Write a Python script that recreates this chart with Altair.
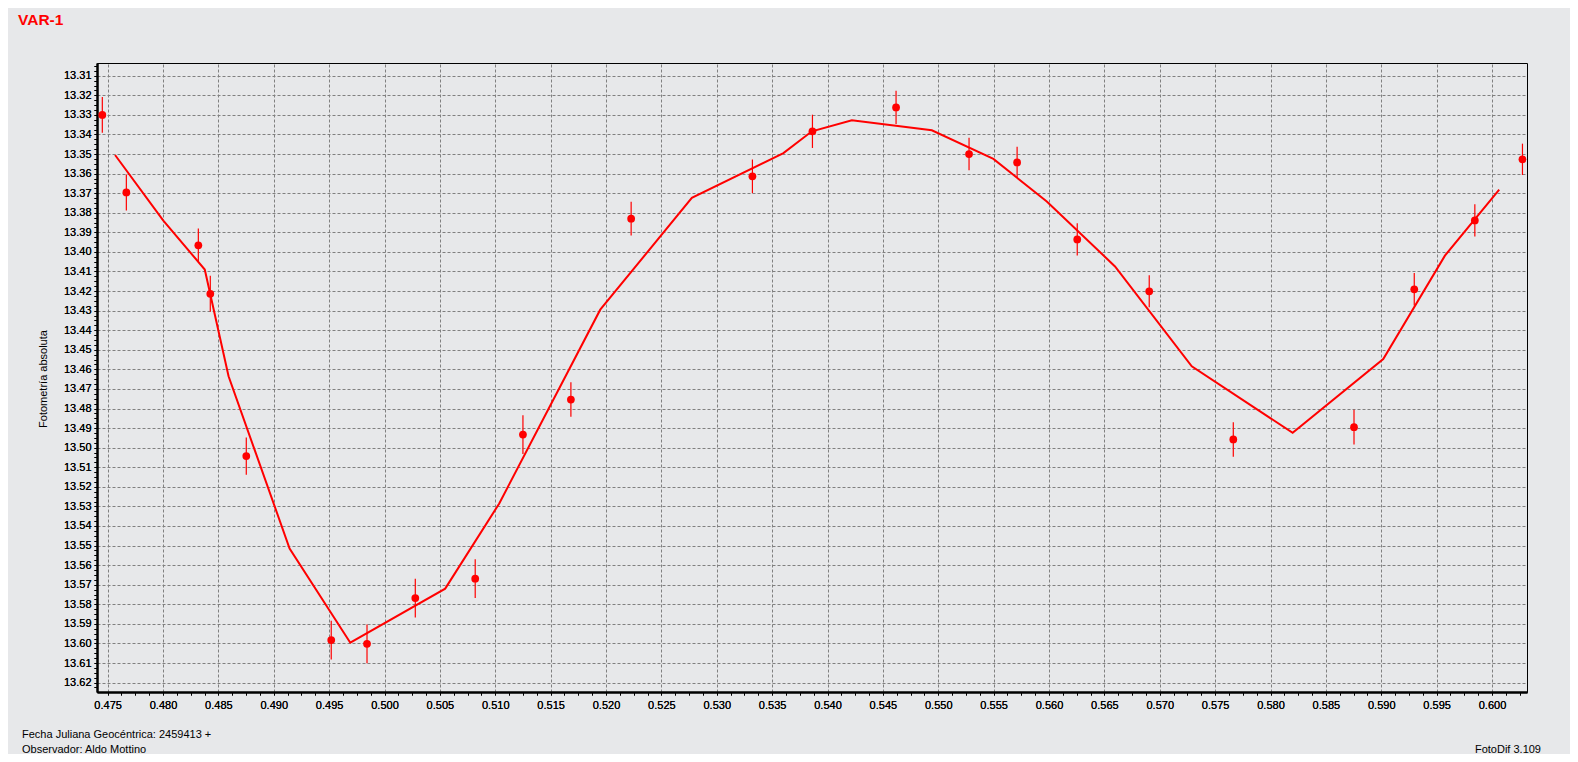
import altair as alt
import pandas as pd

# ---- observed points (JD - 2459413, magnitude, error) ----
obs_x = [0.47452, 0.47669, 0.48319, 0.48427, 0.48752, 0.49519, 0.49842, 0.50278,
         0.50819, 0.51250, 0.51683, 0.52227, 0.53322, 0.53864, 0.54619, 0.55278,
         0.55712, 0.56255, 0.56905, 0.57664, 0.58754, 0.59298, 0.59845, 0.60275]
obs_mag = [13.3300, 13.3696, 13.3966, 13.4214, 13.5043, 13.5983, 13.6002, 13.5768,
           13.5669, 13.4933, 13.4754, 13.3830, 13.3614, 13.3384, 13.3262, 13.3500,
           13.3543, 13.3936, 13.4201, 13.4958, 13.4895, 13.4191, 13.3839, 13.3527]
obs_err = [0.0091, 0.0092, 0.0085, 0.0092, 0.0095, 0.0099, 0.0099, 0.0099,
           0.0099, 0.0099, 0.0088, 0.0086, 0.0086, 0.0085, 0.0085, 0.0083,
           0.0080, 0.0082, 0.0082, 0.0088, 0.0089, 0.0083, 0.0082, 0.0080]

# ---- fitted curve vertices ----
fit_x = [0.47567, 0.48003, 0.48377, 0.48592, 0.49143, 0.49691, 0.50548, 0.51036,
         0.51948, 0.52775, 0.53602, 0.53859, 0.54220, 0.54942, 0.55498, 0.55980,
         0.56596, 0.57289, 0.58200, 0.59018, 0.59575, 0.60065]
fit_mag = [13.3505, 13.3840, 13.4090, 13.4635, 13.5515, 13.5996, 13.5720, 13.5285,
           13.4295, 13.3724, 13.3495, 13.3384, 13.3328, 13.3379, 13.3525, 13.3742,
           13.4074, 13.4584, 13.4924, 13.4547, 13.4019, 13.3682]

# ---- axes ----
x_domain = [0.47404, 0.60316]
y_domain = [13.3035, 13.6248]
x_major = [round(0.475 + 0.005 * i, 3) for i in range(26)]
x_minor = [round(0.47375 + 0.00125 * i, 5) for i in range(104)]
y_major = [round(13.31 + 0.01 * i, 2) for i in range(32)]
y_minor = [round(13.305 + 0.0025 * i, 4) for i in range(129)]

title_text = "VAR-1"
y_title = "Fotometría absoluta"
foot_left_1 = "Fecha Juliana Geocéntrica: 2459413 +"
foot_left_2 = "Observador: Aldo Mottino"
foot_right = "FotoDif 3.109"

FONT = "Liberation Sans"
RED = "#FF0000"
BG = "#E7E8EA"

obs = pd.DataFrame({"x": obs_x, "mag": obs_mag, "err": obs_err})
obs["lo"] = obs["mag"] - obs["err"]
obs["hi"] = obs["mag"] + obs["err"]
fit = pd.DataFrame({"x": fit_x, "mag": fit_mag})

xs = alt.Scale(domain=x_domain, nice=False, zero=False)
ys = alt.Scale(domain=y_domain, nice=False, zero=False, reverse=True)

grid_x_axis = alt.Axis(values=x_major, orient="bottom", grid=True, gridColor="#808080",
                       gridDash=[3, 2], gridWidth=1, domain=False, ticks=False,
                       labels=False, title=None)
grid_y_axis = alt.Axis(values=y_major, orient="left", grid=True, gridColor="#808080",
                       gridDash=[3, 2], gridWidth=1, domain=False, ticks=False,
                       labels=False, title=None)

lab_x_axis = alt.Axis(values=x_minor, orient="bottom", grid=False, domain=True,
                      domainColor="black", domainWidth=2, ticks=True, tickSize=3,
                      tickColor="black", tickWidth=1,
                      labelExpr="abs(datum.value*200 - round(datum.value*200)) < 1e-6 ? format(datum.value, '.3f') : ''",
                      labelFont=FONT, labelFontSize=11, labelColor="black",
                      labelPadding=4, labelOverlap=False, labelFlush=False, title=None)
lab_y_axis = alt.Axis(values=y_minor, orient="left", grid=False, domain=True,
                      domainColor="black", domainWidth=2, ticks=True, tickSize=3,
                      tickColor="black", tickWidth=1,
                      labelExpr="abs(datum.value*100 - round(datum.value*100)) < 1e-6 ? format(datum.value, '.2f') : ''",
                      labelFont=FONT, labelFontSize=11, labelColor="black",
                      labelPadding=3, labelOverlap=False, labelFlush=False, title=None)

line = alt.Chart(fit).mark_line(color=RED, strokeWidth=2).encode(
    x=alt.X("x:Q", scale=xs, axis=grid_x_axis),
    y=alt.Y("mag:Q", scale=ys, axis=grid_y_axis),
)

bars = alt.Chart(obs).mark_rule(color=RED, strokeWidth=1.2).encode(
    x=alt.X("x:Q", scale=xs, axis=lab_x_axis),
    y=alt.Y("lo:Q", scale=ys, axis=lab_y_axis),
    y2="hi:Q",
)

pts = alt.Chart(obs).mark_point(filled=True, shape="circle", size=60, color=RED, opacity=1).encode(
    x=alt.X("x:Q", scale=xs, axis=lab_x_axis),
    y=alt.Y("mag:Q", scale=ys, axis=lab_y_axis),
)

def label(txt, px, py, **kw):
    return alt.Chart(pd.DataFrame({"t": [txt]})).mark_text(font=FONT, **kw).encode(
        x=alt.value(px), y=alt.value(py), text="t:N")

t_title = label(title_text, -79, -38, fontSize=15.5, fontWeight="bold", color=RED,
                align="left", baseline="alphabetic")
t_ytitle = label(y_title, -53.5, 316, fontSize=11, color="black", angle=270,
                 align="center", baseline="middle")
t_f1 = label(foot_left_1, -75, 675, fontSize=11, color="black", align="left",
             baseline="alphabetic")
t_f2 = label(foot_left_2, -75, 690, fontSize=11, color="black", align="left",
             baseline="alphabetic")
t_f3 = label(foot_right, 1444, 690, fontSize=11, color="black", align="right",
             baseline="alphabetic")

chart = alt.layer(line, bars, pts, t_title, t_ytitle, t_f1, t_f2, t_f3).resolve_axis(
    x="independent", y="independent"
).properties(
    width=1430, height=629,
    padding={"left": 89, "top": 55, "right": 43, "bottom": 62},
    autosize=alt.AutoSizeParams(type="none"),
    background=BG,
).configure_view(stroke="black", strokeWidth=1)

chart.save("out.html", embed_options={"renderer": "svg", "actions": False})
